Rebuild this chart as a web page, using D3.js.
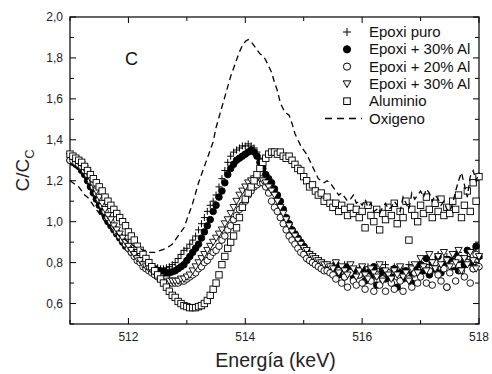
<!DOCTYPE html>
<html>
<head>
<meta charset="utf-8">
<script src="https://cdn.jsdelivr.net/npm/d3@7"></script>
<style>
  body { margin: 0; background: #fff; }
  svg { display: block; font-family: 'Liberation Sans', Arial, sans-serif; }
</style>
</head>
<body>
<div id="chart"></div>
<script>
// energy grid of the spectra: 511.00 .. 518.00 keV, every 0.05 keV
const energyStart = 511;
const energyStep = 0.05;

const epoxiPuro = [
  1.30,1.30,1.29,1.28,1.26,1.24,1.21,1.18,1.15,1.12,
  1.10,1.07,1.04,1.02,0.99,0.97,0.95,0.93,0.91,0.89,
  0.88,0.86,0.85,0.83,0.82,0.81,0.80,0.79,0.78,0.78,
  0.775,0.77,0.77,0.775,0.78,0.79,0.80,0.82,0.84,0.86,
  0.87,0.89,0.91,0.93,0.96,0.99,1.02,1.05,1.08,1.10,
  1.13,1.17,1.21,1.25,1.29,1.32,1.34,1.35,1.36,1.37,
  1.37,1.38,1.37,1.36,1.34,1.31,1.27,1.23,1.19,1.15,
  1.11,1.08,1.05,1.02,0.99,0.97,0.95,0.93,0.91,0.90,
  0.88,0.87,0.85,0.84,0.83,0.82,0.81,0.80,0.79,0.79,
  0.78,0.80,0.77,0.76,0.79,0.75,0.78,0.76,0.74,0.77,
  0.75,0.73,0.78,0.76,0.72,0.77,0.75,0.74,0.79,0.73,
  0.76,0.78,0.74,0.71,0.77,0.75,0.79,0.73,0.76,0.78,
  0.80,0.77,0.82,0.79,0.75,0.81,0.84,0.78,0.80,0.83,
  0.79,0.82,0.77,0.85,0.80,0.78,0.83,0.81,0.86,0.79,0.82
];

const epoxi30 = [
  1.30,1.29,1.28,1.27,1.25,1.23,1.20,1.17,1.14,1.11,
  1.08,1.05,1.03,1.00,0.98,0.96,0.94,0.92,0.90,0.88,
  0.87,0.85,0.84,0.82,0.81,0.80,0.79,0.78,0.77,0.77,
  0.76,0.76,0.755,0.75,0.75,0.755,0.76,0.77,0.78,0.79,
  0.81,0.83,0.85,0.87,0.89,0.92,0.95,0.98,1.01,1.05,
  1.08,1.12,1.15,1.19,1.23,1.26,1.28,1.30,1.31,1.32,
  1.33,1.34,1.35,1.34,1.32,1.29,1.26,1.23,1.21,1.19,
  1.16,1.13,1.10,1.06,1.02,0.99,0.96,0.94,0.92,0.90,
  0.88,0.86,0.84,0.83,0.81,0.80,0.79,0.78,0.77,0.77,
  0.76,0.79,0.74,0.77,0.73,0.78,0.75,0.72,0.76,0.74,
  0.77,0.71,0.75,0.73,0.78,0.69,0.74,0.76,0.72,0.75,
  0.73,0.77,0.68,0.75,0.72,0.76,0.74,0.70,0.77,0.75,
  0.79,0.76,0.82,0.74,0.80,0.77,0.83,0.75,0.79,0.68,
  0.81,0.78,0.84,0.76,0.82,0.79,0.86,0.80,0.77,0.88,0.83
];

const epoxi20 = [
  1.30,1.30,1.29,1.28,1.27,1.25,1.23,1.20,1.17,1.14,
  1.11,1.08,1.05,1.02,1.00,0.97,0.95,0.93,0.91,0.89,
  0.87,0.85,0.83,0.81,0.80,0.78,0.77,0.76,0.75,0.74,
  0.73,0.72,0.71,0.71,0.70,0.70,0.70,0.70,0.71,0.71,
  0.72,0.73,0.74,0.75,0.77,0.78,0.80,0.81,0.83,0.85,
  0.86,0.88,0.91,0.93,0.96,0.98,1.01,1.03,1.06,1.08,
  1.10,1.13,1.15,1.17,1.18,1.19,1.19,1.17,1.14,1.10,
  1.07,1.05,1.02,0.99,0.96,0.93,0.91,0.89,0.87,0.85,
  0.84,0.82,0.81,0.80,0.79,0.78,0.77,0.76,0.76,0.75,
  0.74,0.72,0.76,0.70,0.73,0.68,0.75,0.71,0.69,0.74,
  0.70,0.67,0.73,0.71,0.66,0.74,0.69,0.72,0.66,0.75,
  0.70,0.67,0.73,0.71,0.66,0.74,0.72,0.68,0.75,0.70,
  0.73,0.78,0.70,0.76,0.69,0.80,0.74,0.71,0.77,0.68,
  0.75,0.79,0.71,0.82,0.76,0.73,0.80,0.70,0.77,0.84,0.78
];

const epoxi30b = [
  1.32,1.31,1.30,1.29,1.28,1.26,1.24,1.21,1.18,1.15,
  1.12,1.09,1.06,1.03,1.01,0.98,0.96,0.94,0.92,0.90,
  0.88,0.86,0.84,0.82,0.81,0.79,0.78,0.77,0.76,0.75,
  0.74,0.73,0.72,0.72,0.71,0.71,0.71,0.71,0.72,0.72,
  0.73,0.74,0.76,0.78,0.80,0.82,0.84,0.86,0.88,0.90,
  0.92,0.94,0.96,0.99,1.01,1.04,1.07,1.10,1.13,1.15,
  1.17,1.19,1.20,1.21,1.21,1.21,1.20,1.19,1.17,1.15,
  1.13,1.10,1.07,1.04,1.01,0.98,0.95,0.93,0.91,0.89,
  0.87,0.86,0.84,0.83,0.82,0.81,0.80,0.79,0.79,0.78,
  0.77,0.80,0.75,0.78,0.76,0.74,0.79,0.77,0.73,0.76,
  0.78,0.74,0.72,0.77,0.75,0.73,0.79,0.71,0.76,0.74,
  0.72,0.76,0.74,0.78,0.73,0.75,0.71,0.77,0.79,0.75,
  0.82,0.78,0.76,0.84,0.80,0.77,0.83,0.79,0.85,0.81,
  0.78,0.84,0.80,0.86,0.76,0.82,0.79,0.85,0.81,0.77,0.83
];

const aluminio = [
  1.33,1.32,1.31,1.30,1.29,1.27,1.25,1.23,1.21,1.19,
  1.17,1.15,1.12,1.10,1.08,1.06,1.04,1.02,1.00,0.98,
  0.95,0.93,0.91,0.88,0.86,0.84,0.82,0.80,0.78,0.76,
  0.74,0.72,0.70,0.68,0.66,0.64,0.63,0.61,0.60,0.59,
  0.585,0.58,0.58,0.58,0.585,0.59,0.60,0.615,0.64,0.67,
  0.70,0.74,0.79,0.83,0.87,0.90,0.93,0.97,1.02,1.07,
  1.11,1.14,1.17,1.20,1.23,1.26,1.29,1.31,1.33,1.34,
  1.34,1.33,1.34,1.32,1.31,1.32,1.30,1.28,1.26,1.25,
  1.22,1.20,1.17,1.18,1.15,1.13,1.14,1.10,1.12,1.09,
  1.07,1.09,1.05,1.08,1.06,1.03,1.07,1.04,1.06,1.02,
  1.05,0.97,1.08,1.03,1.00,1.06,0.96,1.04,1.01,1.07,
  1.03,1.09,0.99,1.05,1.02,1.10,0.91,1.06,1.03,1.00,
  1.08,1.04,1.12,1.06,1.02,1.09,1.05,1.11,1.03,1.07,
  1.04,1.10,1.06,1.13,1.02,1.08,1.15,1.05,1.19,1.10,1.22
];

const oxigeno = [
  1.20,1.19,1.18,1.17,1.15,1.13,1.12,1.10,1.08,1.06,
  1.04,1.02,1.00,0.99,0.97,0.95,0.94,0.93,0.92,0.91,
  0.90,0.89,0.88,0.87,0.87,0.86,0.86,0.85,0.85,0.85,
  0.855,0.86,0.865,0.87,0.88,0.89,0.91,0.93,0.95,0.97,
  1.01,1.05,1.09,1.14,1.19,1.23,1.27,1.31,1.35,1.39,
  1.46,1.51,1.56,1.61,1.66,1.71,1.75,1.79,1.83,1.86,
  1.88,1.89,1.88,1.86,1.84,1.82,1.81,1.79,1.76,1.73,
  1.68,1.64,1.58,1.55,1.53,1.52,1.48,1.43,1.40,1.37,
  1.35,1.33,1.30,1.27,1.24,1.21,1.20,1.19,1.20,1.19,
  1.17,1.15,1.13,1.14,1.12,1.10,1.11,1.13,1.09,1.10,
  1.08,1.11,1.07,1.09,1.05,1.06,1.04,1.07,1.09,1.06,
  1.07,1.10,1.08,1.05,1.12,1.09,1.06,1.14,1.11,1.13,
  1.15,1.12,1.16,1.14,1.10,1.13,1.11,1.08,1.10,1.06,
  1.05,1.09,1.15,1.20,1.24,1.18,1.12,1.22,1.25,1.20,1.24
];

const legendLabels = ['Epoxi puro', 'Epoxi + 30% Al', 'Epoxi + 20% Al', 'Epoxi + 30% Al', 'Aluminio', 'Oxigeno'];
const xTickValues = [512, 514, 516, 518];
const yTickValues = [0.6, 0.8, 1.0, 1.2, 1.4, 1.6, 1.8, 2.0];

const width = 492;
const height = 374;
const margin = { left: 70, right: 13, top: 17, bottom: 50 };

let svg = d3.select('#chart').append('svg').attr('width', width).attr('height', height);

let xScale = d3.scaleLinear().domain([511, 518]).range([margin.left, width - margin.right]);
let yScale = d3.scaleLinear().domain([0.5, 2.0]).range([height - margin.bottom, margin.top]);

const toPoints = values => values.map((v, i) => ({ x: energyStart + i * energyStep, y: v }));

const fmt = d => d3.format('.1f')(d).replace('.', ',');

// frame and ticks (all ticks point inward)
let plotLeft = xScale(511), plotRight = xScale(518), plotTop = yScale(2.0), plotBottom = yScale(0.5);

let axes = svg.append('g').attr('class', 'axes');

let xMajor = [512, 514, 516, 518];
let xMinor = [511, 513, 515, 517];
let yMajor = [0.6, 0.8, 1.0, 1.2, 1.4, 1.6, 1.8, 2.0];
let yMinor = [0.5, 0.7, 0.9, 1.1, 1.3, 1.5, 1.7, 1.9];

function tickLines(values, len, horizontal) {
  values.forEach(v => {
    if (horizontal) {
      axes.append('line').attr('x1', xScale(v)).attr('x2', xScale(v)).attr('y1', plotBottom).attr('y2', plotBottom - len);
      axes.append('line').attr('x1', xScale(v)).attr('x2', xScale(v)).attr('y1', plotTop).attr('y2', plotTop + len);
    } else {
      axes.append('line').attr('x1', plotLeft).attr('x2', plotLeft + len).attr('y1', yScale(v)).attr('y2', yScale(v));
      axes.append('line').attr('x1', plotRight).attr('x2', plotRight - len).attr('y1', yScale(v)).attr('y2', yScale(v));
    }
  });
}
tickLines(xMajor, 6, true);
tickLines(xMinor, 4, true);
tickLines(yMajor, 6, false);
tickLines(yMinor, 4, false);
axes.selectAll('line').attr('stroke', '#000').attr('stroke-width', 1);

svg.append('rect')
  .attr('x', plotLeft).attr('y', plotTop)
  .attr('width', plotRight - plotLeft).attr('height', plotBottom - plotTop)
  .attr('fill', 'none').attr('stroke', '#000').attr('stroke-width', 1.2);

// tick labels
svg.append('g').selectAll('text').data(xTickValues).enter().append('text')
  .attr('x', d => xScale(d)).attr('y', plotBottom + 17)
  .attr('text-anchor', 'middle').attr('font-size', 12).attr('fill', '#222')
  .text(d => d);

svg.append('g').selectAll('text').data(yTickValues).enter().append('text')
  .attr('x', plotLeft - 7).attr('y', d => yScale(d) + 4)
  .attr('text-anchor', 'end').attr('font-size', 12).attr('fill', '#222')
  .text(d => fmt(d));

// axis titles
svg.append('text')
  .attr('x', (plotLeft + plotRight) / 2 + 1).attr('y', 367)
  .attr('text-anchor', 'middle').attr('font-size', 19.5).attr('fill', '#222')
  .text('Energía (keV)');

let yTitle = svg.append('text')
  .attr('transform', 'translate(29,' + ((plotTop + plotBottom) / 2) + ') rotate(-90)')
  .attr('text-anchor', 'middle').attr('font-size', 19).attr('fill', '#222');
yTitle.append('tspan').text('C/C');
yTitle.append('tspan').attr('font-size', 13).attr('dy', 5).text('C');

svg.append('text')
  .attr('x', 125).attr('y', 65)
  .attr('font-size', 18).attr('fill', '#111')
  .text('C');

// markers
let plot = svg.append('g');

const plusPath = s => 'M' + (-s) + ',0H' + s + 'M0,' + (-s) + 'V' + s;
const triDown = s => 'M' + (-s) + ',' + (-s * 0.8) + 'H' + s + 'L0,' + (s * 0.95) + 'Z';

function drawSeries(values, kind) {
  let pts = toPoints(values);
  let sel = plot.append('g').selectAll('.m').data(pts).enter();
  if (kind === 'plus') {
    sel.append('path').attr('d', plusPath(3.5))
      .attr('transform', d => 'translate(' + xScale(d.x) + ',' + yScale(d.y) + ')')
      .attr('stroke', '#000').attr('stroke-width', 1).attr('fill', 'none');
  } else if (kind === 'filled' || kind === 'open') {
    sel.append('circle').attr('cx', d => xScale(d.x)).attr('cy', d => yScale(d.y)).attr('r', 3.3)
      .attr('fill', kind === 'filled' ? '#000' : '#fff').attr('stroke', '#000').attr('stroke-width', 0.9);
  } else if (kind === 'tri') {
    sel.append('path').attr('d', triDown(3.6))
      .attr('transform', d => 'translate(' + xScale(d.x) + ',' + yScale(d.y) + ')')
      .attr('fill', '#fff').attr('stroke', '#000').attr('stroke-width', 0.9);
  } else if (kind === 'square') {
    sel.append('rect').attr('x', d => xScale(d.x) - 3.2).attr('y', d => yScale(d.y) - 3.2)
      .attr('width', 6.4).attr('height', 6.4)
      .attr('fill', '#fff').attr('stroke', '#000').attr('stroke-width', 0.9);
  }
}

drawSeries(epoxiPuro, 'plus');
drawSeries(epoxi30, 'filled');
drawSeries(epoxi20, 'open');
drawSeries(epoxi30b, 'tri');
drawSeries(aluminio, 'square');

let line = d3.line().x(d => xScale(d.x)).y(d => yScale(d.y));
plot.append('path')
  .datum(toPoints(oxigeno))
  .attr('d', line)
  .attr('fill', 'none').attr('stroke', '#000').attr('stroke-width', 1.3)
  .attr('stroke-dasharray', '6,4');

// legend
let legend = svg.append('g');
let legendX = 347, legendTextX = 369, legendY0 = 32, legendStep = 17.3;
legendLabels.forEach((label, i) => {
  let y = legendY0 + i * legendStep;
  if (i === 0) {
    legend.append('path').attr('d', plusPath(4)).attr('transform', 'translate(' + legendX + ',' + y + ')')
      .attr('stroke', '#000').attr('stroke-width', 1).attr('fill', 'none');
  } else if (i === 1 || i === 2) {
    legend.append('circle').attr('cx', legendX).attr('cy', y).attr('r', 3.6)
      .attr('fill', i === 1 ? '#000' : '#fff').attr('stroke', '#000').attr('stroke-width', 1);
  } else if (i === 3) {
    legend.append('path').attr('d', triDown(3.8)).attr('transform', 'translate(' + legendX + ',' + y + ')')
      .attr('fill', '#fff').attr('stroke', '#000').attr('stroke-width', 1);
  } else if (i === 4) {
    legend.append('rect').attr('x', legendX - 3.3).attr('y', y - 3.3).attr('width', 6.6).attr('height', 6.6)
      .attr('fill', '#fff').attr('stroke', '#000').attr('stroke-width', 1);
  } else {
    legend.append('line').attr('x1', 325).attr('x2', 362).attr('y1', y).attr('y2', y)
      .attr('stroke', '#000').attr('stroke-width', 1.3).attr('stroke-dasharray', '7,5');
  }
  legend.append('text').attr('x', legendTextX).attr('y', y + 5)
    .attr('font-size', 15).attr('fill', '#111').text(label);
});
</script>
</body>
</html>
